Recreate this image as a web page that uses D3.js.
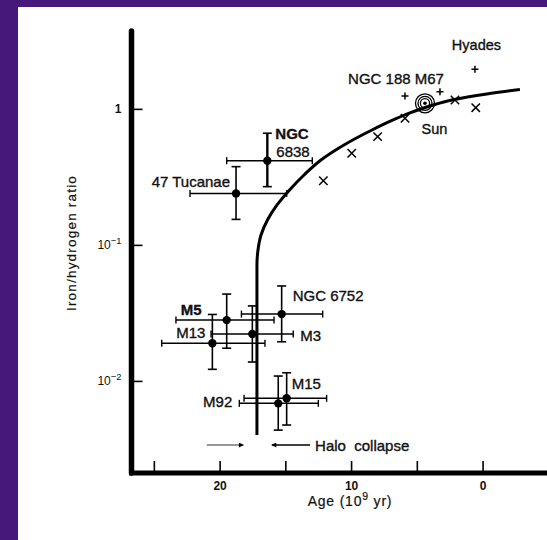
<!DOCTYPE html>
<html>
<head>
<meta charset="utf-8">
<script src="https://cdn.jsdelivr.net/npm/d3@7"></script>
<style>
  html, body { margin: 0; padding: 0; background: #45187a; }
  svg { display: block; }
  text { font-family: "Liberation Sans", Arial, Helvetica, sans-serif; fill: #111; }
  .lbl { stroke: #111; stroke-width: 0.35px; }
</style>
</head>
<body>
<svg id="chart" width="547" height="540"></svg>
<script>
// ---------------- DATA ----------------
// Globular clusters: age (10^9 yr) with range, iron/hydrogen ratio with range
const clusterNames = ["NGC 6838", "47 Tucanae", "M5", "M13", "M3", "NGC 6752", "M92", "M15"];
const clusterAge   = [16.37, 18.75, 19.46, 20.55, 17.51, 15.28, 15.54, 14.90];
const clusterAgeHi = [19.46, 22.25, 23.32, 24.40, 20.65, 18.34, 18.50, 18.14];
const clusterAgeLo = [12.95, 14.90, 15.86, 16.55, 14.40, 12.16, 12.49, 11.86];
const clusterFe    = [0.416, 0.239, 0.0280, 0.0189, 0.0221, 0.0310, 0.00684, 0.00745];
const clusterFeHi  = [0.662, 0.376, 0.0435, 0.0308, 0.0356, 0.0499, 0.01086, 0.01148];
const clusterFeLo  = [0.268, 0.154, 0.0174, 0.01217, 0.01377, 0.0194, 0.00435, 0.00474];

// Model enrichment curve (age, Fe/H)
const curveAge = [17.16, 17.16, 17.08, 16.85, 16.36, 15.63, 14.68, 13.58, 12.29, 10.54, 8.41, 6.97, 5.52, 4.00, 2.25, -0.33, -2.84];
const curveFe  = [0.0040, 0.0711, 0.0918, 0.1183, 0.1525, 0.1966, 0.2535, 0.3266, 0.421, 0.5429, 0.6995, 0.815, 0.933, 1.050, 1.167, 1.287, 1.389];

// Disk stars (x symbols)
const starAge = [12.11, 9.95, 7.98, 5.90, 2.10, 0.52];
const starFe  = [0.296, 0.472, 0.625, 0.853, 1.162, 1.02];

// Open clusters (+ symbols)
const openNames = ["NGC 188", "M67", "Hyades"];
const openAge   = [5.90, 3.24, 0.58];
const openFe    = [1.245, 1.338, 1.955];

// Sun
const sunAge = 4.38, sunFe = 1.099;

// Halo collapse interval markers
const haloFe = 0.00338;
const haloArrowLeft  = [20.97, 18.19];   // arrow pointing right (from, to)
const haloArrowRight = [13.12, 16.03];   // arrow pointing left (from, to)
const haloTextAge = 12.74;

// Axis ticks
const ageTicks = [25, 20, 15, 10, 5, 0];
const ageTickLabels = ["", "20", "", "10", "", "0"];
const feTicks = [1, 0.1, 0.01];
const feTickExp = [0, -1, -2];

// ---------------- LAYOUT ----------------
const svg = d3.select("#chart");
svg.append("rect").attr("x", 18).attr("y", 7).attr("width", 529).attr("height", 533).attr("fill", "#ffffff");

const x = d3.scaleLinear().domain([26.7, -4.9]).range([131.5, 547]);
const y = d3.scaleLog().domain([0.002, 3.8]).range([476, 30]);
const axisY = 473;

// Label offsets (pixels, relative to each cluster's dot)
const labelLayout = {
  "NGC 6838":   [{t: "NGC", dx: 8, dy: -22, anchor: "start", bold: true}, {t: "6838", dx: 9, dy: -4, anchor: "start", bold: false}],
  "47 Tucanae": [{t: "47 Tucanae", dx: -6, dy: -6.5, anchor: "end"}],
  "M5":         [{t: "M5", dx: -25, dy: -5.5, anchor: "end", bold: true}],
  "M13":        [{t: "M13", dx: -7, dy: -5, anchor: "end"}],
  "M3":         [{t: "M3", dx: 48, dy: 6.5, anchor: "start"}],
  "NGC 6752":   [{t: "NGC 6752", dx: 11, dy: -13.5, anchor: "start"}],
  "M92":        [{t: "M92", dx: -46, dy: 3.5, anchor: "end"}],
  "M15":        [{t: "M15", dx: 5, dy: -9, anchor: "start"}]
};

// ---------------- AXES ----------------
const yAxis = d3.axisLeft(y).tickValues(feTicks).tickSizeInner(-11).tickSizeOuter(0).tickPadding(10);
const gy = svg.append("g").attr("transform", "translate(131.5,0)").call(yAxis);
gy.select(".domain").attr("stroke", "#000").attr("stroke-width", 5.5).attr("stroke-linecap", "round")
  .attr("d", `M0,${y.range()[1] + 1}V${axisY}`);
gy.selectAll(".tick line").attr("stroke", "#000").attr("stroke-width", 1.6);
gy.selectAll(".tick text").each(function(d) {
  const t = d3.select(this);
  t.text(null).attr("font-size", 12).attr("fill", "#111").attr("font-family", "Liberation Sans, Arial, sans-serif");
  const e = feTickExp[feTicks.indexOf(d)];
  if (e === 0) { t.text("1").attr("font-weight", "bold"); }
  else {
    t.append("tspan").text("10");
    t.append("tspan").attr("dy", "-5.5").attr("font-size", "9.4").text("\u2212" + Math.abs(e));
  }
});

const xAxis = d3.axisBottom(x).tickValues(ageTicks).tickSizeInner(-12).tickSizeOuter(0).tickPadding(8)
  .tickFormat((d, i) => ageTickLabels[i]);
const gx = svg.append("g").attr("transform", `translate(0,${axisY})`).call(xAxis);
gx.select(".domain").attr("stroke", "#000").attr("stroke-width", 5).attr("d", `M129,0H547`);
gx.selectAll(".tick line").attr("stroke", "#000").attr("stroke-width", 1.6);
gx.selectAll(".tick text").attr("font-size", 12).attr("font-weight", "bold").attr("fill", "#111")
  .attr("font-family", "Liberation Sans, Arial, sans-serif");

// Axis titles
svg.append("text").attr("class", "lbl").attr("transform", "translate(76,243) rotate(-90)").attr("text-anchor", "middle")
  .attr("font-size", 13.5).attr("letter-spacing", 1.2).style("stroke-width", "0.2px").text("Iron/hydrogen ratio");
const xt = svg.append("text").attr("class", "lbl").attr("x", 350).attr("y", 506).attr("text-anchor", "middle")
  .attr("font-size", 14).attr("letter-spacing", 0.8).style("stroke-width", "0.2px");
xt.append("tspan").text("Age (10");
xt.append("tspan").attr("dy", "-6").attr("font-size", "10.5").text("9");
xt.append("tspan").attr("dy", "6").text(" yr)");

// ---------------- SUN (drawn under the curve) ----------------
const sx = x(sunAge), sy = y(sunFe);
[9.5, 7, 4.6].forEach(r => svg.append("circle").attr("cx", sx).attr("cy", sy).attr("r", r)
  .attr("fill", r === 9.5 ? "#fff" : "none").attr("stroke", "#000").attr("stroke-width", 1.3));
svg.append("circle").attr("cx", sx).attr("cy", sy).attr("r", 1.8).attr("fill", "#000");
svg.append("text").attr("class", "lbl").attr("x", sx - 3.5).attr("y", sy + 31).attr("font-size", 14.5).text("Sun");

// ---------------- CURVE ----------------
const curvePts = curveAge.map((a, i) => [x(a), y(curveFe[i])]);
svg.append("path").attr("d", d3.line().curve(d3.curveMonotoneY)(curvePts))
  .attr("fill", "none").attr("stroke", "#000").attr("stroke-width", 3);

// ---------------- CLUSTERS ----------------
const cap = 4.5;
clusterNames.forEach((name, i) => {
  const g = svg.append("g");
  const cx = x(clusterAge[i]), cy = y(clusterFe[i]);
  const xl = x(clusterAgeHi[i]), xr = x(clusterAgeLo[i]);
  const yt = y(clusterFeHi[i]), yb = y(clusterFeLo[i]);
  const thickV = (name === "NGC 6838") ? 2.4 : 1.6;
  g.append("line").attr("x1", xl).attr("x2", xr).attr("y1", cy).attr("y2", cy).attr("stroke", "#000").attr("stroke-width", 1.5);
  g.append("line").attr("x1", xl).attr("x2", xl).attr("y1", cy - 3.5).attr("y2", cy + 3.5).attr("stroke", "#000").attr("stroke-width", 1.4);
  g.append("line").attr("x1", xr).attr("x2", xr).attr("y1", cy - 3.5).attr("y2", cy + 3.5).attr("stroke", "#000").attr("stroke-width", 1.4);
  g.append("line").attr("x1", cx).attr("x2", cx).attr("y1", yt).attr("y2", yb).attr("stroke", "#000").attr("stroke-width", thickV);
  g.append("line").attr("x1", cx - cap).attr("x2", cx + cap).attr("y1", yt).attr("y2", yt).attr("stroke", "#000").attr("stroke-width", 1.6);
  g.append("line").attr("x1", cx - cap).attr("x2", cx + cap).attr("y1", yb).attr("y2", yb).attr("stroke", "#000").attr("stroke-width", 1.6);
  g.append("circle").attr("cx", cx).attr("cy", cy).attr("r", 4.2).attr("fill", "#000");
  (labelLayout[name] || []).forEach(l => {
    g.append("text").attr("class", "lbl").attr("x", cx + l.dx).attr("y", cy + l.dy).attr("text-anchor", l.anchor)
      .attr("font-size", 15).attr("font-weight", l.bold ? "bold" : "normal").text(l.t);
  });
});

// ---------------- DISK STARS (x) ----------------
starAge.forEach((a, i) => {
  const px = x(a), py = y(starFe[i]), s = 4.2;
  svg.append("path").attr("d", `M${px - s},${py - s}L${px + s},${py + s}M${px + s},${py - s}L${px - s},${py + s}`)
    .attr("stroke", "#000").attr("stroke-width", 1.5).attr("fill", "none");
});

// ---------------- OPEN CLUSTERS (+) ----------------
openAge.forEach((a, i) => {
  const px = x(a), py = y(openFe[i]), s = 3.5;
  svg.append("path").attr("d", `M${px - s},${py}H${px + s}M${px},${py - s}V${py + s}`)
    .attr("stroke", "#000").attr("stroke-width", 1.5);
});
svg.append("text").attr("class", "lbl").attr("x", 396).attr("y", 84).attr("text-anchor", "middle").attr("font-size", 15).text("NGC 188 M67");
svg.append("text").attr("class", "lbl").attr("x", x(openAge[2]) + 1.5).attr("y", 49.5).attr("text-anchor", "middle").attr("font-size", 14.5).text("Hyades");

// ---------------- HALO COLLAPSE ----------------
const defs = svg.append("defs");
defs.append("marker").attr("id", "ah").attr("viewBox", "0 0 10 10").attr("refX", 9).attr("refY", 5)
  .attr("markerWidth", 7).attr("markerHeight", 5).attr("markerUnits", "userSpaceOnUse").attr("orient", "auto")
  .append("path").attr("d", "M0,0L10,5L0,10Z").attr("fill", "#000");
const hy = y(haloFe);
svg.append("line").attr("x1", x(haloArrowLeft[0])).attr("x2", x(haloArrowLeft[1])).attr("y1", hy).attr("y2", hy)
  .attr("stroke", "#333").attr("stroke-width", 1.1).attr("marker-end", "url(#ah)");
svg.append("line").attr("x1", x(haloArrowRight[0])).attr("x2", x(haloArrowRight[1])).attr("y1", hy).attr("y2", hy)
  .attr("stroke", "#000").attr("stroke-width", 1.5).attr("marker-end", "url(#ah)");
svg.append("text").attr("class", "lbl").attr("x", x(haloTextAge)).attr("y", hy + 5.5).attr("font-size", 15)
  .style("white-space", "pre").text("Halo  collapse");
</script>
</body>
</html>
